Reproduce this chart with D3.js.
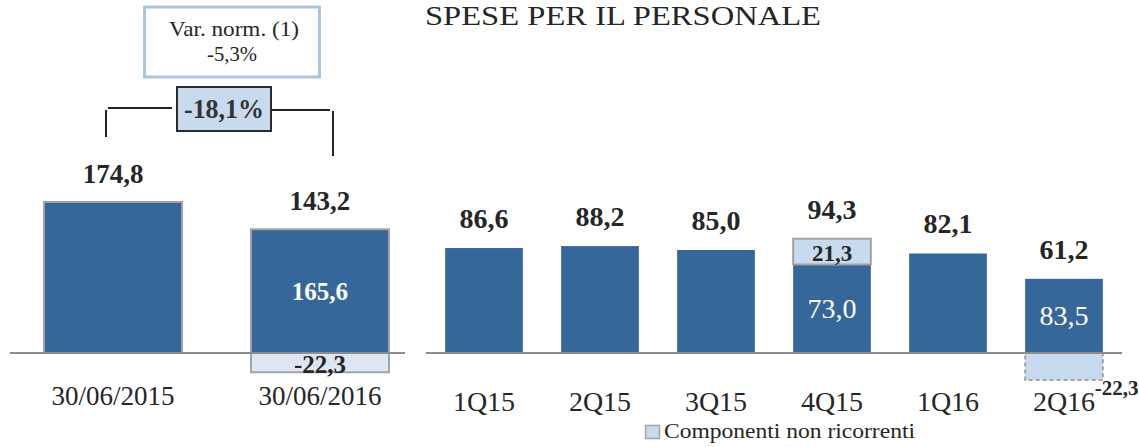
<!DOCTYPE html>
<html><head><meta charset="utf-8">
<script src="https://cdn.jsdelivr.net/npm/d3@7"></script>
<style>
html,body{margin:0;padding:0;background:#fff;}
svg{display:block;font-family:"Liberation Serif","DejaVu Serif",serif;}
</style></head>
<body>
<svg id="chart" width="1139" height="447"></svg>
<script>
// ---- data ----
const title = "SPESE PER IL PERSONALE";
const leftCats = ["30/06/2015", "30/06/2016"];
const leftTotals = [174.8, 143.2];
const leftRecurring = [null, 165.6];
const leftNonRec = [0, -22.3];
const changeLabel = "-18,1%";
const normLabel = ["Var. norm. (1)", "-5,3%"];

const rightCats = ["1Q15", "2Q15", "3Q15", "4Q15", "1Q16", "2Q16"];
const rightTotals = [86.6, 88.2, 85.0, 94.3, 82.1, 61.2];
const rightRecurring = [null, null, null, 73.0, null, 83.5];
const rightNonRec = [0, 0, 0, 21.3, 0, -22.3];
const legendLabel = "Componenti non ricorrenti";

// ---- style ----
const BLUE = "#35679b", LIGHT = "#c8daed", LIGHTER = "#dde7f3", GREY = "#a3a3a3", AXIS = "#8c8c8c", TXT = "#262626";
const fmt = v => d3.format(".1f")(v).replace(".", ",").replace("\u2212", "-");

const svg = d3.select("#chart");
const base = 353;

// title
svg.append("text").attr("x", 425).attr("y", 25).attr("font-size", 28).attr("fill", TXT)
  .attr("textLength", 396).attr("lengthAdjust", "spacingAndGlyphs").text(title);

// ---------- LEFT PANEL ----------
const xL = d3.scaleBand().domain(leftCats).range([9.5, 423.5]).paddingInner(0.333).paddingOuter(0.1667);
const yL = d3.scaleLinear().domain([0, 200]).range([base, base - 172.8]);

const gL = svg.append("g");
leftCats.forEach((c, i) => {
  const x = xL(c), w = xL.bandwidth(), cx = x + w / 2;
  gL.append("rect").attr("x", x).attr("y", yL(leftTotals[i])).attr("width", w)
    .attr("height", yL(0) - yL(leftTotals[i])).attr("fill", BLUE).attr("stroke", GREY).attr("stroke-width", 2);
  if (leftNonRec[i] < 0) {
    gL.append("rect").attr("x", x).attr("y", yL(0)).attr("width", w)
      .attr("height", yL(leftNonRec[i]) - yL(0)).attr("fill", LIGHTER).attr("stroke", GREY).attr("stroke-width", 2);
    gL.append("text").attr("x", cx).attr("y", yL(leftNonRec[i]) + 1).attr("text-anchor", "middle")
      .attr("font-size", 25).attr("font-weight", "bold").attr("fill", TXT).text(fmt(leftNonRec[i]));
  }
  if (leftRecurring[i] != null) {
    const mid = (yL(leftTotals[i]) + yL(0)) / 2;
    gL.append("text").attr("x", cx).attr("y", mid + 9).attr("text-anchor", "middle")
      .attr("font-size", 25).attr("font-weight", "bold").attr("fill", "#fff").text(fmt(leftRecurring[i]));
  }
  gL.append("text").attr("x", cx).attr("y", yL(leftTotals[i]) - 19).attr("text-anchor", "middle")
    .attr("font-size", 27).attr("font-weight", "bold").attr("fill", TXT).text(fmt(leftTotals[i]));
});
gL.append("line").attr("x1", 10).attr("x2", 405).attr("y1", base).attr("y2", base)
  .attr("stroke", AXIS).attr("stroke-width", 2);
const axL = d3.axisBottom(xL).tickSize(0).tickPadding(0);
const axLg = svg.append("g").attr("transform", `translate(0,${base})`).call(axL);
axLg.select(".domain").remove();
axLg.selectAll("text").attr("y", 52).attr("dy", null).attr("font-size", 27)
  .attr("font-family", "Liberation Serif").attr("fill", TXT);

// bracket
const bx0 = xL(leftCats[0]) + xL.bandwidth() / 2 - 7, bx1 = xL(leftCats[1]) + xL.bandwidth() / 2 + 13;
const gB = svg.append("g").attr("stroke", "#222").attr("stroke-width", 2).attr("fill", "none");
gB.append("line").attr("x1", bx0).attr("x2", bx0).attr("y1", 110).attr("y2", 137);
gB.append("line").attr("x1", bx0 + 2).attr("x2", 172).attr("y1", 108).attr("y2", 108);
gB.append("line").attr("x1", 271).attr("x2", bx1 - 3).attr("y1", 110).attr("y2", 110);
gB.append("line").attr("x1", bx1).attr("x2", bx1).attr("y1", 111).attr("y2", 156);
svg.append("rect").attr("x", 177).attr("y", 87).attr("width", 94).attr("height", 44)
  .attr("fill", LIGHT).attr("stroke", "#2a2a2a").attr("stroke-width", 2);
svg.append("text").attr("x", 224).attr("y", 118).attr("text-anchor", "middle").attr("font-size", 27)
  .attr("font-weight", "bold").attr("fill", "#333").attr("textLength", 80)
  .attr("lengthAdjust", "spacingAndGlyphs").text(changeLabel);

// norm box
svg.append("rect").attr("x", 144.5).attr("y", 7).attr("width", 175).attr("height", 70)
  .attr("fill", "#fff").attr("stroke", "#a9c5e2").attr("stroke-width", 3);
svg.append("text").attr("x", 234).attr("y", 36).attr("text-anchor", "middle").attr("font-size", 22)
  .attr("fill", TXT).attr("textLength", 130).attr("lengthAdjust", "spacingAndGlyphs").text(normLabel[0]);
svg.append("text").attr("x", 232).attr("y", 61).attr("text-anchor", "middle").attr("font-size", 22)
  .attr("fill", TXT).attr("textLength", 50).attr("lengthAdjust", "spacingAndGlyphs").text(normLabel[1]);

// ---------- RIGHT PANEL ----------
const xR = d3.scaleBand().domain(rightCats).range([426, 1122]).paddingInner(0.33).paddingOuter(0.165);
const yR = d3.scaleLinear().domain([0, 100]).range([base, base - 121.2]);

const gR = svg.append("g");
rightCats.forEach((c, i) => {
  const x = xR(c), w = xR.bandwidth(), cx = x + w / 2;
  const nr = rightNonRec[i];
  const blueVal = nr > 0 ? rightTotals[i] - nr : rightTotals[i];
  gR.append("rect").attr("x", x).attr("y", yR(blueVal)).attr("width", w)
    .attr("height", yR(0) - yR(blueVal)).attr("fill", BLUE);
  if (nr > 0) {
    gR.append("rect").attr("x", x).attr("y", yR(blueVal + nr)).attr("width", w)
      .attr("height", yR(blueVal) - yR(blueVal + nr)).attr("fill", LIGHT).attr("stroke", GREY).attr("stroke-width", 2);
    gR.append("text").attr("x", cx).attr("y", (yR(blueVal) + yR(blueVal + nr)) / 2 + 9).attr("text-anchor", "middle")
      .attr("font-size", 23).attr("font-weight", "bold").attr("fill", TXT).text(fmt(nr));
  } else if (nr < 0) {
    gR.append("rect").attr("x", x).attr("y", yR(0)).attr("width", w)
      .attr("height", yR(nr) - yR(0)).attr("fill", LIGHT).attr("stroke", GREY).attr("stroke-width", 2)
      .attr("stroke-dasharray", "4,3");
    gR.append("text").attr("x", x + w - 8).attr("y", yR(nr) + 15).attr("text-anchor", "start")
      .attr("font-size", 21).attr("font-weight", "bold").attr("fill", TXT).text(fmt(nr));
  }
  if (rightRecurring[i] != null) {
    const mid = (yR(blueVal) + yR(0)) / 2;
    gR.append("text").attr("x", cx).attr("y", mid + 9).attr("text-anchor", "middle")
      .attr("font-size", 28).attr("fill", "#fff").text(fmt(rightRecurring[i]));
  }
  gR.append("text").attr("x", cx).attr("y", yR(rightTotals[i]) - 20).attr("text-anchor", "middle")
    .attr("font-size", 28).attr("font-weight", "bold").attr("fill", TXT).text(fmt(rightTotals[i]));
});
gR.append("line").attr("x1", 426).attr("x2", 1122).attr("y1", base).attr("y2", base)
  .attr("stroke", AXIS).attr("stroke-width", 2);
const axR = d3.axisBottom(xR).tickSize(0).tickPadding(0);
const axRg = svg.append("g").attr("transform", `translate(0,${base})`).call(axR);
axRg.select(".domain").remove();
axRg.selectAll("text").attr("y", 58).attr("dy", null).attr("font-size", 28)
  .attr("font-family", "Liberation Serif").attr("fill", TXT);

// legend
svg.append("rect").attr("x", 645.5).attr("y", 425.5).attr("width", 14).attr("height", 13)
  .attr("fill", LIGHT).attr("stroke", GREY).attr("stroke-width", 1.5);
svg.append("text").attr("x", 664).attr("y", 438).attr("font-size", 21).attr("fill", TXT)
  .attr("textLength", 251).attr("lengthAdjust", "spacingAndGlyphs").text(legendLabel);
</script>
</body></html>
